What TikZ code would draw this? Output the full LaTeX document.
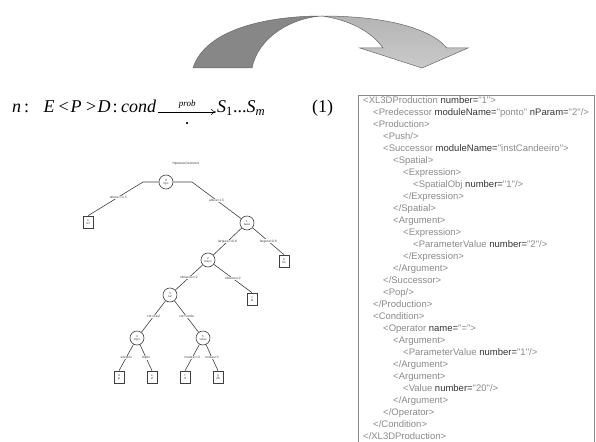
\documentclass[tikz,border=0pt]{standalone}
\usepackage{fontspec}
\setmainfont{Liberation Serif}
\newfontfamily\xmlfont{Liberation Sans}
\usetikzlibrary{arrows.meta,calc}

\definecolor{tagc}{HTML}{8A8A8A}
\definecolor{attc}{HTML}{333333}
\definecolor{boxc}{HTML}{8A8A8A}
\definecolor{arrowdark}{HTML}{878787}
\definecolor{arrowlight}{HTML}{CACACA}
\definecolor{arrowmid}{HTML}{B4B4B4}
\definecolor{arrowline}{HTML}{666666}
\definecolor{edgec}{HTML}{3F3F3F}

% XML markup helpers: tag text in grey, attribute names in dark
\newcommand\tg[1]{\textcolor{tagc}{#1}}
\newcommand\at[1]{\textcolor{attc}{#1}}
% fixed-width slots for the symbols of the production rule
\newcommand\slot[2]{\makebox[#1pt][l]{#2}}
\newcommand\cslot[2]{\makebox[#1pt][c]{#2}}

\tikzset{
  xmlline/.style={anchor=base west, inner sep=0pt, font=\xmlfont\fontsize{9.5}{11}\selectfont},
  formula/.style={anchor=base west, inner sep=0pt, font=\fontsize{18}{21}\selectfont},
  innode/.style={circle, draw=edgec, line width=0.6pt, minimum size=14pt, inner sep=0pt,
    align=center, font=\xmlfont\fontsize{3}{3.4}\selectfont, text=edgec},
  leafnode/.style={rectangle, draw=edgec, line width=0.6pt, minimum width=10pt, minimum height=12pt,
    inner sep=0pt, align=center, font=\xmlfont\fontsize{3}{3.4}\selectfont, text=edgec},
  treelabel/.style={font=\xmlfont\fontsize{3.3}{3.6}\selectfont, text=edgec, fill=white, inner sep=0.3pt},
  treeedge/.style={draw=edgec, line width=0.6pt},
  arrowpart/.style={draw=arrowline, line width=0.5pt},
  rulearrow/.style={line width=0.6pt, -{To[length=5pt,width=6pt]}},
}

\begin{document}
\begin{tikzpicture}[x=1pt, y=-1pt]
\useasboundingbox (0,0) rectangle (596,441);

% ---------- curved transformation arrow ----------
\path[arrowpart, fill=arrowdark]
  (193,68) .. controls (205,30) and (265,16) .. (322,16)
  .. controls (290,18) and (258,38) .. (252,68) -- cycle;
\path[arrowpart, top color=arrowmid, bottom color=arrowlight]
  (322,16) .. controls (385,16) and (430,28) .. (447,48)
  -- (468,48) -- (422,68) -- (360,48) -- (383,48)
  .. controls (372,32) and (350,20) .. (322,16) -- cycle;

% ---------- production rule ----------
\node[formula] (lhs) at (12,113)
  {\slot{28}{\textit{n}\,:}\cslot{18}{\textit{E}}\cslot{11}{<}\cslot{14}{\textit{P}}\cslot{16}{>}\cslot{10}{\textit{D}}\cslot{12}{:}\slot{36}{\textit{cond}}};
\node[formula] (rhs) at (217,113)
  {\slot{95}{\textit{S}\textsubscript{1}...\textit{S}\textsubscript{\textit{m}}}(1)};
\draw[rulearrow] ($(lhs.base east)+(1,-1)$) --
  node[above=3.5pt, inner sep=0pt, font=\itshape\fontsize{9}{10}\selectfont] (prob) {prob}
  node[below=10pt, inner sep=0pt, font=\fontsize{9}{10}\selectfont] (dot) {•}
  ($(rhs.base west)+(-1,-1)$);

% ---------- decision tree ----------
\node[font=\xmlfont\fontsize{3.3}{3.8}\selectfont, text=edgec] (title) at (186,164) {HipoteseDeArvore};

\node[innode] (n1) at (166,182) {0\\tipo};
\node[innode] (n2) at (247,223) {1\\base};
\node[innode] (n3) at (208,260) {2\\braco};
\node[innode] (n4) at (170,295) {3\\luz};
\node[innode] (n5) at (137,338) {4\\topo};
\node[innode] (n6) at (203,338) {5\\velas};

\node[leafnode] (l1) at (88,222) {a\\tef};
\node[leafnode] (l2) at (284,261) {b\\tto};
\node[leafnode] (l3) at (252,299) {c\\td};
\node[leafnode] (l4) at (119,377) {d\\lp};
\node[leafnode] (l5) at (152,377) {e\\sf};
\node[leafnode] (l6) at (185,377) {f\\cf};
\node[leafnode] (l7) at (218,377) {g\\cfb};

\coordinate (c1l) at (143,182);
\coordinate (c1r) at (192,182);

\draw[treeedge] (n1.west) -- (c1l) -- node[treelabel, pos=0.45] {altura<=1.5} (l1.north);
\draw[treeedge] (n1.east) -- (c1r) -- node[treelabel, pos=0.5] {altura>1.5} (n2);
\draw[treeedge] (n2) -- node[treelabel] {largura<=0.8} (n3);
\draw[treeedge] (n2) -- node[treelabel] {largura>0.8} (l2.north);
\draw[treeedge] (n3) -- node[treelabel] {nbracos<=2} (n4);
\draw[treeedge] (n3) -- node[treelabel] {nbracos>2} (l3.north);
\draw[treeedge] (n4) -- node[treelabel] {cor=azul} (n5);
\draw[treeedge] (n4) -- node[treelabel] {cor=verde} (n6);
\draw[treeedge] (n5) -- node[treelabel] {simples} (l4.north);
\draw[treeedge] (n5) -- node[treelabel] {duplo} (l5.north);
\draw[treeedge] (n6) -- node[treelabel] {nvelas<=3} (l6.north);
\draw[treeedge] (n6) -- node[treelabel] {nvelas>3} (l7.north);

% ---------- XML listing ----------
\draw[boxc, line width=0.8pt] (594,445) -- (594,95) -- (358,95) -- (358,445);

\node[xmlline] (x0)  at (363,103) {\tg{<XL3DProduction }\at{number=}\tg{"1">}};
\node[xmlline] (x1)  at (373,115) {\tg{<Predecessor }\at{moduleName=}\tg{"ponto" }\at{nParam=}\tg{"2"/>}};
\node[xmlline] (x2)  at (373,127) {\tg{<Production>}};
\node[xmlline] (x3)  at (383,139) {\tg{<Push/>}};
\node[xmlline] (x4)  at (383,151) {\tg{<Successor }\at{moduleName=}\tg{"instCandeeiro">}};
\node[xmlline] (x5)  at (393,163) {\tg{<Spatial>}};
\node[xmlline] (x6)  at (403,175) {\tg{<Expression>}};
\node[xmlline] (x7)  at (413,187) {\tg{<SpatialObj }\at{number=}\tg{"1"/>}};
\node[xmlline] (x8)  at (403,199) {\tg{</Expression>}};
\node[xmlline] (x9)  at (393,211) {\tg{</Spatial>}};
\node[xmlline] (x10) at (393,223) {\tg{<Argument>}};
\node[xmlline] (x11) at (403,235) {\tg{<Expression>}};
\node[xmlline] (x12) at (413,247) {\tg{<ParameterValue }\at{number=}\tg{"2"/>}};
\node[xmlline] (x13) at (403,259) {\tg{</Expression>}};
\node[xmlline] (x14) at (393,271) {\tg{</Argument>}};
\node[xmlline] (x15) at (383,283) {\tg{</Successor>}};
\node[xmlline] (x16) at (383,295) {\tg{<Pop/>}};
\node[xmlline] (x17) at (373,307) {\tg{</Production>}};
\node[xmlline] (x18) at (373,319) {\tg{<Condition>}};
\node[xmlline] (x19) at (383,331) {\tg{<Operator }\at{name=}\tg{"=">}};
\node[xmlline] (x20) at (393,343) {\tg{<Argument>}};
\node[xmlline] (x21) at (403,355) {\tg{<ParameterValue }\at{number=}\tg{"1"/>}};
\node[xmlline] (x22) at (393,367) {\tg{</Argument>}};
\node[xmlline] (x23) at (393,379) {\tg{<Argument>}};
\node[xmlline] (x24) at (403,391) {\tg{<Value }\at{number=}\tg{"20"/>}};
\node[xmlline] (x25) at (393,403) {\tg{</Argument>}};
\node[xmlline] (x26) at (383,415) {\tg{</Operator>}};
\node[xmlline] (x27) at (373,427) {\tg{</Condition>}};
\node[xmlline] (x28) at (363,439) {\tg{</XL3DProduction>}};

\end{tikzpicture}
\end{document}
